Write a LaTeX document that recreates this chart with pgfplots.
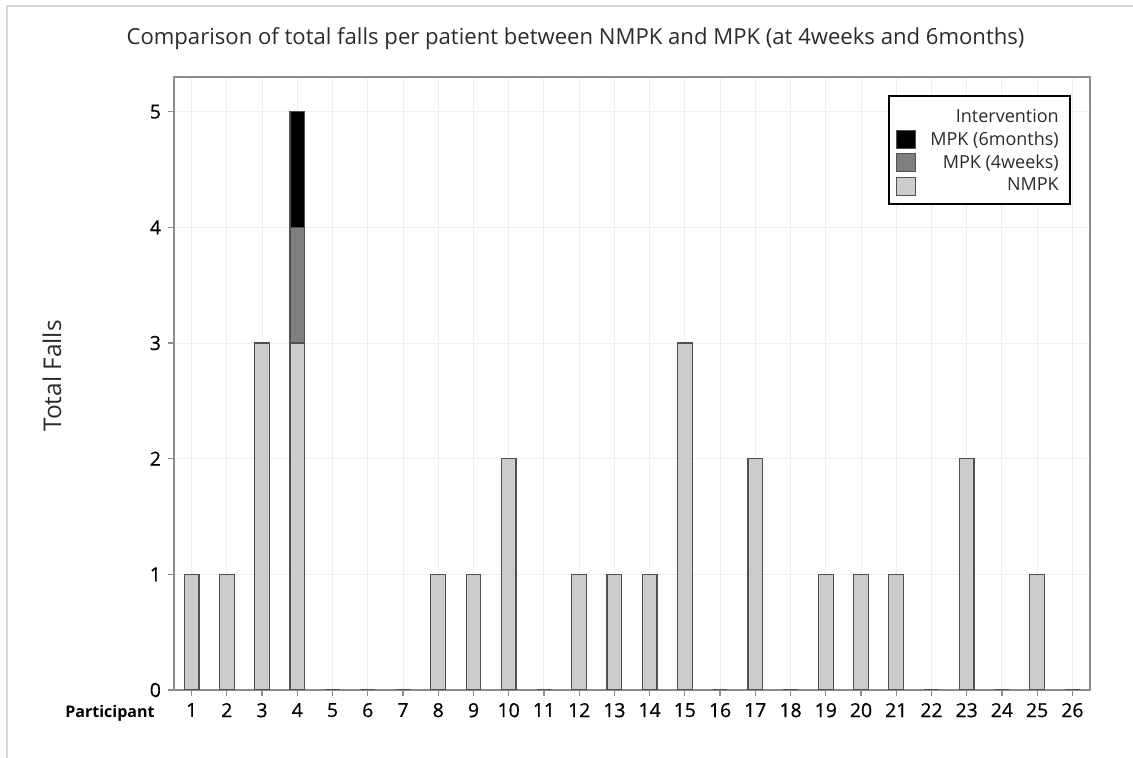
\documentclass[border=0pt]{standalone}
\usepackage{pgfplots}
\pgfplotsset{compat=1.18}
\usepackage{fontspec}
\setmainfont{Open Sans}
\newfontfamily\tickfont[FakeBold=0.6]{Open Sans}
\definecolor{nmpk}{HTML}{CCCCCC}
\definecolor{mpkfour}{HTML}{7F7F7F}
\definecolor{edge}{HTML}{505050}
\definecolor{axisgray}{HTML}{8C8C8C}
\definecolor{gridgray}{HTML}{EFEFEF}
\definecolor{framegray}{HTML}{D8D8D8}
\definecolor{txt}{HTML}{2B2B2B}
\begin{document}
\begin{tikzpicture}
\useasboundingbox (0pt,0pt) rectangle (566.5pt,379pt);
\draw[framegray, line width=0.6pt] (3.5pt,0pt) -- (3.5pt,376pt) -- (566.5pt,376pt);
\node[anchor=base, text=txt, font=\fontsize{11.05}{13}\selectfont] at (287.75pt,356.5pt) {Comparison of total falls per patient between NMPK and MPK (at 4weeks and 6months)};
\node[rotate=90, text=txt, font=\fontsize{12.2}{14}\selectfont] at (26pt,191pt) {Total Falls};
\begin{axis}[
  at={(87pt,34pt)}, anchor=south west,
  scale only axis, width=458pt, height=306.5pt,
  xmin=0.5, xmax=26.5, ymin=0, ymax=5.3,
  ybar, bar shift=0pt, bar width=7.35pt,
  xtick={1,...,26}, ytick={0,...,5},
  xtick pos=bottom, ytick pos=left,
  tick align=outside, major tick length=3pt,
  tick style={axisgray, line width=0.6pt},
  axis line style={axisgray, line width=0.6pt},
  grid=major, major grid style={gridgray, line width=0.5pt},
  tick label style={font=\tickfont\fontsize{9.7}{11}\selectfont, text=black},
  /pgf/number format/assume math mode=true,
  legend cell align=right,
  legend style={at={(0.979,0.971)}, anchor=north east, draw=black, line width=1pt,
    fill=white, font=\fontsize{9}{10.5}\selectfont, text=txt,
    inner xsep=3.5pt, inner ysep=4pt, row sep=2pt,
    nodes={inner ysep=0.6pt},
    /tikz/every odd column/.append style={column sep=5pt}},
]
\addlegendimage{empty legend}
\addlegendentry{\rule{0pt}{8.6pt}Intervention}
\addlegendimage{legend image code/.code={\draw[fill=black,draw=edge,line width=0.5pt] (0pt,-4.5pt) rectangle (9.5pt,4.5pt);}}
\addlegendentry{MPK (6months)}
\addlegendimage{legend image code/.code={\draw[fill=mpkfour,draw=edge,line width=0.5pt] (0pt,-4.5pt) rectangle (9.5pt,4.5pt);}}
\addlegendentry{MPK (4weeks)}
\addlegendimage{legend image code/.code={\draw[fill=nmpk,draw=edge,line width=0.5pt] (0pt,-4.5pt) rectangle (9.5pt,4.5pt);}}
\addlegendentry{NMPK}
% cumulative top of MPK (6months) segment (NMPK + 4weeks + 6months)
\addplot[fill=black, draw=edge, line width=0.6pt, forget plot] coordinates {(4,5)};
% cumulative top of MPK (4weeks) segment (NMPK + 4weeks)
\addplot[fill=mpkfour, draw=edge, line width=0.6pt, forget plot] coordinates {(4,4)};
% NMPK
\addplot[fill=nmpk, draw=edge, line width=0.6pt, forget plot] coordinates {
(1,1) (2,1) (3,3) (4,3) (5,0) (6,0) (7,0) (8,1) (9,1) (10,2) (11,0) (12,1) (13,1)
(14,1) (15,3) (16,0) (17,2) (18,0) (19,1) (20,1) (21,1) (22,0) (23,2) (24,0) (25,1) (26,0)};
\end{axis}
\node[anchor=base east, inner sep=0pt, text=black, font=\bfseries\fontsize{8}{10}\selectfont] at (77.5pt,20pt) {Participant};
\end{tikzpicture}
\end{document}
